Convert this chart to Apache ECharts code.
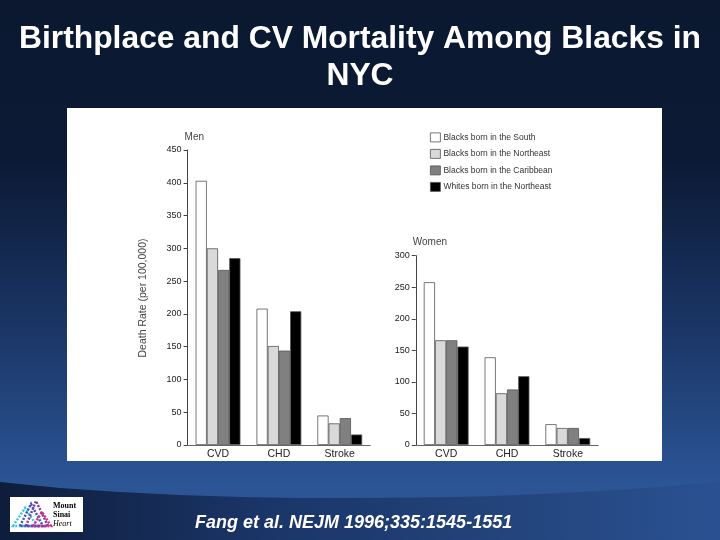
<!DOCTYPE html>
<html>
<head>
<meta charset="utf-8">
<script src="https://cdn.jsdelivr.net/npm/echarts@6/dist/echarts.min.js"></script>
<style>
html,body{margin:0;padding:0;width:720px;height:540px;overflow:hidden;}
body{background:linear-gradient(to bottom,#0b1830 0%,#0c1a35 30%,#1a3565 60%,#2c5596 90%,#2c5596 100%);}
#c{width:720px;height:540px;}
</style>
</head>
<body>
<div id="c"></div>
<script>
var categories = ['CVD', 'CHD', 'Stroke'];
var seriesNames = ['Blacks born in the South', 'Blacks born in the Northeast', 'Blacks born in the Caribbean', 'Whites born in the Northeast'];
var menSouth = [403, 208, 45];
var menNortheast = [300, 151, 33];
var menCaribbean = [267, 144, 41];
var menWhites = [285, 204, 16];
var womenSouth = [258, 139, 33];
var womenNortheast = [166, 82, 27];
var womenCaribbean = [166, 88, 27];
var womenWhites = [156, 109, 11];
var menTicks = {min: 0, max: 450, interval: 50};
var womenTicks = {min: 0, max: 300, interval: 50};

var colors = ['#ffffff', '#d9d9d9', '#808080', '#000000'];
var menData = [menSouth, menNortheast, menCaribbean, menWhites];
var womenData = [womenSouth, womenNortheast, womenCaribbean, womenWhites];
var FONT = '"Liberation Sans", Arial, sans-serif';

var series = [];
function addSeries(dataArr, idx) {
  dataArr.forEach(function (d, i) {
    series.push({
      name: seriesNames[i],
      type: 'bar',
      xAxisIndex: idx,
      yAxisIndex: idx,
      data: d,
      barWidth: 11.2,
      barGap: '0%',
      itemStyle: {color: colors[i], borderColor: '#555', borderWidth: 0.8},
      emphasis: {disabled: true},
      animation: false
    });
  });
}
addSeries(menData, 0);
addSeries(womenData, 1);

function yAxis(t, name, gridIdx) {
  return {
    type: 'value', gridIndex: gridIdx, min: t.min, max: t.max, interval: t.interval,
    name: name, nameLocation: 'end', nameGap: 8,
    nameTextStyle: {align: 'left', fontSize: 10, color: '#444', fontFamily: FONT, padding: [0, 0, 0, -3]},
    axisLine: {show: true, lineStyle: {color: '#444', width: 1}},
    axisTick: {show: true, length: 4, lineStyle: {color: '#444'}},
    axisLabel: {fontSize: 9, color: '#222', margin: 6, fontFamily: FONT},
    splitLine: {show: false}
  };
}
function xAxis(gridIdx) {
  return {
    type: 'category', gridIndex: gridIdx, data: categories,
    axisLine: {show: true, lineStyle: {color: '#666', width: 1}},
    axisTick: {show: false},
    axisLabel: {fontSize: 10.5, color: '#222', margin: 4, fontFamily: FONT}
  };
}

var bandFill = {type: 'linear', x: 0, y: 0, x2: 1, y2: 0, colorStops: [
  {offset: 0, color: '#0e1d3b'}, {offset: 0.35, color: '#1a3466'}, {offset: 0.75, color: '#24467f'}, {offset: 1, color: '#2b5192'}]};
var bandPts = [[0, 482], [60, 488], [120, 492], [180, 495], [240, 497], [300, 498], [360, 498], [420, 497.5], [480, 496.5], [540, 494], [600, 491], [660, 487], [720, 482], [720, 540], [0, 540]];

var chart = echarts.init(document.getElementById('c'), null, {renderer: 'canvas'});
chart.setOption({
  backgroundColor: 'transparent',
  animation: false,
  title: [
    {text: 'Birthplace and CV Mortality Among Blacks in\nNYC', left: 'center', top: 16,
     textStyle: {color: '#ffffff', fontSize: 31.8, fontWeight: 'bold', fontFamily: FONT, lineHeight: 37}},
    {text: 'Fang et al. NEJM 1996;335:1545-1551', left: 190, top: 509,
     textStyle: {color: '#ffffff', fontSize: 18, fontWeight: 'bold', fontStyle: 'italic', fontFamily: FONT}}
  ],
  graphic: [
    {type: 'polygon', z: -10, silent: true, shape: {points: bandPts}, style: {fill: bandFill}},
    {type: 'rect', z: -5, silent: true, shape: {x: 67, y: 108, width: 595, height: 353}, style: {fill: '#ffffff'}},
    {type: 'text', silent: true, x: 143, y: 298, rotation: Math.PI / 2,
     style: {text: 'Death Rate (per 100,000)', fill: '#444', fontSize: 10.5, fontFamily: FONT, align: 'center', verticalAlign: 'middle'}},
    {type: 'rect', silent: true, shape: {x: 10, y: 497, width: 73, height: 35}, style: {fill: '#ffffff'}},
    {type: 'polygon', silent: true, shape: {points: [[13, 526], [25, 508], [37, 526]]}, style: {fill: 'none', stroke: '#3ec6e0', lineWidth: 2.5, lineDash: [2, 1.5]}},
    {type: 'polygon', silent: true, shape: {points: [[20, 526], [31, 504], [43, 526]]}, style: {fill: 'none', stroke: '#3a55b8', lineWidth: 2.5, lineDash: [2, 1.5]}},
    {type: 'polygon', silent: true, shape: {points: [[26, 526], [36, 501], [48, 526]]}, style: {fill: 'none', stroke: '#7a3aa8', lineWidth: 2.5, lineDash: [2, 1.5]}},
    {type: 'polygon', silent: true, shape: {points: [[33, 526], [42, 512], [51, 526]]}, style: {fill: 'none', stroke: '#d42d8c', lineWidth: 2.5, lineDash: [2, 1.5]}},
    {type: 'text', silent: true, x: 53, y: 502, style: {text: 'Mount', fill: '#000', fontSize: 8, fontWeight: 'bold', fontFamily: '"Liberation Serif", serif'}},
    {type: 'text', silent: true, x: 53, y: 511, style: {text: 'Sinai', fill: '#000', fontSize: 8, fontWeight: 'bold', fontFamily: '"Liberation Serif", serif'}},
    {type: 'text', silent: true, x: 53, y: 520, style: {text: 'Heart', fill: '#000', fontSize: 8, fontStyle: 'italic', fontFamily: '"Liberation Serif", serif'}}
  ],
  legend: {
    data: seriesNames, orient: 'vertical', left: 425, top: 127.5, itemWidth: 10, itemHeight: 9, itemGap: 6.7,
    icon: 'rect', selectedMode: false,
    itemStyle: {borderWidth: 0.8, borderColor: '#555'},
    textStyle: {fontSize: 8.5, color: '#333', fontFamily: FONT, padding: [0, 0, 0, -2]}
  },
  grid: [
    {left: 187.6, top: 150, width: 182.6, height: 295},
    {left: 415.8, top: 255.7, width: 182.4, height: 189.3}
  ],
  xAxis: [xAxis(0), xAxis(1)],
  yAxis: [yAxis(menTicks, 'Men', 0), yAxis(womenTicks, 'Women', 1)],
  series: series
});
</script>
</body>
</html>
